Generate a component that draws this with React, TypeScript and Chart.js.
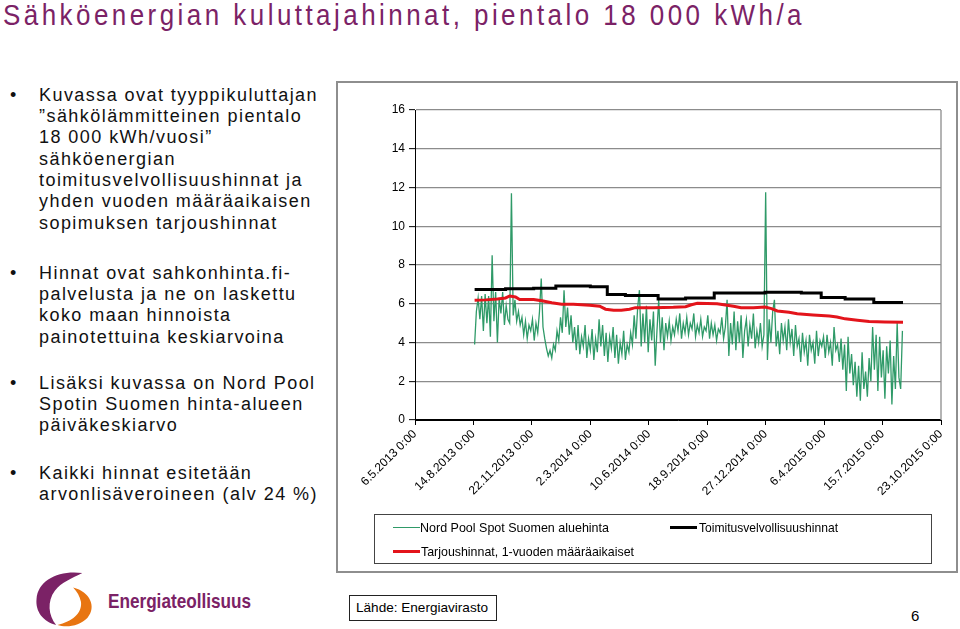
import React, { useEffect, useLayoutEffect, useRef } from "react";
import { Chart, registerables } from "chart.js";

Chart.register(...registerables);

// ---------- DATA ----------
const xTickLabels = [
  "6.5.2013 0:00",
  "14.8.2013 0:00",
  "22.11.2013 0:00",
  "2.3.2014 0:00",
  "10.6.2014 0:00",
  "18.9.2014 0:00",
  "27.12.2014 0:00",
  "6.4.2015 0:00",
  "15.7.2015 0:00",
  "23.10.2015 0:00",
];
const xTickStepDays = 100; // days between tick labels (day 0 = 6.5.2013)
const yMin = 0;
const yMax = 16;
const yStep = 2;

const seriesNames = [
  "Nord Pool Spot Suomen aluehinta",
  "Toimitusvelvollisuushinnat",
  "Tarjoushinnat, 1-vuoden määräaikaiset",
];
const seriesColors = ["#2f9a68", "#000000", "#e3141b"];

// Nord Pool Spot, one value every 3 days from day 102
const spotStartDay = 102;
const spotStepDays = 3;
const spotValues = [
  3.9, 5.6, 6.3, 5.2, 6.4, 4.6, 6.5, 5.0, 6.4, 4.3,
  8.5, 5.1, 6.6, 4.0, 6.3, 5.5, 6.6, 4.9, 5.9, 5.2,
  5.0, 11.7, 5.4, 6.2, 5.1, 5.6, 4.9, 5.3, 4.4, 5.1,
  4.2, 4.9, 4.6, 5.2, 4.1, 5.0, 4.5, 5.6, 7.3, 4.8,
  4.2, 3.7, 3.3, 3.6, 3.2, 3.9, 3.6, 4.6, 4.1, 5.3,
  4.5, 6.7, 4.8, 5.8, 4.4, 5.4, 4.0, 4.8, 3.6, 4.9,
  3.4, 4.3, 3.8, 4.9, 3.2, 4.2, 3.6, 4.7, 3.1, 4.2,
  3.5, 5.2, 3.8, 4.9, 3.3, 4.5, 3.0, 4.3, 3.7, 4.8,
  3.2, 4.4, 2.9, 4.0, 3.4, 4.6, 3.1, 3.9, 3.5, 4.5,
  3.9, 5.4, 4.2, 5.8, 6.7, 3.8, 5.5, 4.0, 5.9, 3.5,
  5.2, 4.1, 5.6, 2.8, 4.6, 6.2, 4.0, 5.3, 3.6, 5.0,
  4.3, 5.1, 4.1, 4.8, 4.4, 5.2, 4.6, 5.5, 4.2, 5.0,
  4.5, 5.3, 4.4, 5.0, 4.7, 5.5, 4.3, 4.9, 4.5, 5.2,
  4.3, 4.8, 4.6, 5.4, 4.2, 5.0, 4.4, 4.9, 4.1, 4.7,
  4.5, 5.3, 4.2, 4.8, 6.2, 3.3, 5.0, 3.9, 5.6, 3.6,
  5.1, 4.0, 5.4, 3.2, 4.6, 5.2, 3.8, 4.9, 4.2, 5.5,
  3.7, 4.6, 4.0, 5.0, 3.8, 4.4, 11.75, 3.1, 5.2, 4.0,
  5.6, 6.2, 3.8, 4.6, 3.4, 5.0, 4.1, 4.8, 3.6, 5.2,
  4.0, 4.7, 3.3, 4.9, 3.8, 4.2, 3.0, 4.5, 3.5, 4.1,
  2.8, 4.4, 3.6, 4.0, 2.9, 4.6, 3.3, 4.1, 3.8, 4.3,
  3.2, 4.4, 3.5, 4.0, 2.8, 4.8, 3.6, 3.9, 3.0, 4.2,
  2.6, 3.9, 1.5, 4.3, 2.4, 3.4, 1.8, 3.0, 1.2, 2.8,
  1.0, 3.5, 1.6, 2.5, 1.2, 3.2, 2.0, 4.8, 2.6, 4.4,
  1.5, 4.3, 2.2, 3.6, 1.1, 3.8, 2.4, 4.1, 0.8, 3.3,
  1.6, 5.0, 2.2, 1.6, 4.6,
];

// Toimitusvelvollisuushinnat (step line)
const supplyDays = [102, 155, 203, 241, 300, 329, 360, 416, 463, 512, 599, 661, 695, 736, 785, 835];
const supplyValues = [6.73, 6.77, 6.8, 6.92, 6.88, 6.48, 6.42, 6.25, 6.3, 6.55, 6.6, 6.55, 6.32, 6.24, 6.07, 6.07];

// Tarjoushinnat, 1-vuoden määräaikaiset
const offerDays = [
  102, 121, 141, 155, 162, 172, 179, 203, 217, 234, 251, 271, 299, 316, 326, 340, 353, 367, 377, 408, 442,
  463, 473, 483, 517, 534, 545, 558, 579, 599, 610, 620, 640, 654, 681, 709, 722, 736, 757, 777, 804, 835,
];
const offerValues = [
  6.18, 6.2, 6.25, 6.3, 6.4, 6.35, 6.22, 6.22, 6.15, 6.05, 5.97, 5.97, 5.92, 5.87, 5.72, 5.66, 5.66, 5.72, 5.8, 5.8, 5.82,
  5.85, 5.95, 6.02, 6.0, 5.92, 5.87, 5.8, 5.8, 5.83, 5.75, 5.63, 5.56, 5.48, 5.42, 5.37, 5.32, 5.22, 5.15, 5.08, 5.06, 5.04,
];

const titleText = "Sähköenergian kuluttajahinnat, pientalo 18 000 kWh/a";
const bulletParagraphs = [
  [
    "Kuvassa ovat tyyppikuluttajan",
    "”sähkölämmitteinen pientalo",
    "18 000 kWh/vuosi”",
    "sähköenergian",
    "toimitusvelvollisuushinnat ja",
    "yhden vuoden määräaikaisen",
    "sopimuksen tarjoushinnat",
  ],
  [
    "Hinnat ovat sahkonhinta.fi-",
    "palvelusta ja ne on laskettu",
    "koko maan hinnoista",
    "painotettuina keskiarvoina",
  ],
  ["Lisäksi kuvassa on Nord Pool", "Spotin Suomen hinta-alueen", "päiväkeskiarvo"],
  ["Kaikki hinnat esitetään", "arvonlisäveroineen (alv 24 %)"],
];
const sourceText = "Lähde: Energiavirasto";
const logoText = "Energiateollisuus";
const pageNumber = "6";

// ---------- LAYOUT ----------
const PURPLE = "#7b2266";
const bulletTops = [84.5, 262.5, 372.5, 462.5];
const LINE_H = 21.4;

const plotFrame = {
  id: "plotFrame",
  beforeDatasetsDraw(chart: any) {
    const { ctx, chartArea: a } = chart;
    ctx.save();
    ctx.strokeStyle = "#8c8c8c";
    ctx.lineWidth = 1.3;
    ctx.beginPath();
    ctx.moveTo(a.right, a.top);
    ctx.lineTo(a.right, a.bottom);
    ctx.stroke();
    ctx.restore();
  },
};

function fitScale(el: HTMLElement | null, target: number) {
  if (!el) return;
  el.style.transform = "";
  const w = el.getBoundingClientRect().width;
  if (w > 0) el.style.transform = `scaleX(${target / w})`;
}

export default function App() {
  const canvasRef = useRef<HTMLCanvasElement>(null);
  const rootRef = useRef<HTMLDivElement>(null);

  useLayoutEffect(() => {
    const root = rootRef.current;
    if (!root) return;
    const ref = root.querySelector<HTMLElement>("[data-ref='1']");
    if (ref) {
      ref.style.letterSpacing = "0px";
      const w = ref.getBoundingClientRect().width;
      const n = (ref.textContent || "").length;
      const ls = (279 - w) / n;
      root.querySelectorAll<HTMLElement>(".bl").forEach((e) => (e.style.letterSpacing = ls + "px"));
    }
    root.querySelectorAll<HTMLElement>("[data-fit]").forEach((e) => fitScale(e, Number(e.dataset.fit)));
  }, []);

  useEffect(() => {
    if (!canvasRef.current) return;
    const spot = spotValues.map((v, i) => ({ x: spotStartDay + i * spotStepDays, y: v }));
    const supply = supplyValues.map((v, i) => ({ x: supplyDays[i], y: v }));
    const offer = offerValues.map((v, i) => ({ x: offerDays[i], y: v }));
    const font = { family: "'Liberation Sans', Arial, sans-serif", size: 12 };
    const chart = new Chart(canvasRef.current, {
      type: "line",
      data: {
        datasets: [
          { label: seriesNames[0], data: spot, borderColor: seriesColors[0], borderWidth: 1.3, pointRadius: 0, order: 2 },
          { label: seriesNames[1], data: supply, borderColor: seriesColors[1], borderWidth: 3, pointRadius: 0, stepped: "before", order: 1 },
          { label: seriesNames[2], data: offer, borderColor: seriesColors[2], borderWidth: 3, pointRadius: 0, order: 0 },
        ],
      },
      options: {
        animation: false,
        responsive: false,
        maintainAspectRatio: false,
        layout: { padding: { top: 27, right: 13, left: 0, bottom: 0 } },
        plugins: { legend: { display: false }, tooltip: { enabled: false } },
        scales: {
          x: {
            type: "linear",
            min: 0,
            max: xTickStepDays * (xTickLabels.length - 1),
            ticks: {
              stepSize: xTickStepDays,
              autoSkip: false,
              minRotation: 45,
              maxRotation: 45,
              padding: 2,
              color: "#000",
              font,
              callback: (v: any) => xTickLabels[Math.round(Number(v) / xTickStepDays)] ?? "",
            },
            grid: { drawOnChartArea: false, tickLength: 5, tickColor: "#000", tickWidth: 1 },
            border: { color: "#000", width: 1 },
            afterFit: (s: any) => {
              s.height = 150;
              s.paddingLeft = 0;
              s.paddingRight = 0;
            },
          },
          y: {
            min: yMin,
            max: yMax,
            ticks: { stepSize: yStep, color: "#000", font, padding: 4 },
            grid: {
              color: (c: any) => (c.tick && c.tick.value === 0 ? "#000" : "#8c8c8c"),
              lineWidth: 1.3,
              tickLength: 6,
              tickColor: "#000",
              tickWidth: 1,
            },
            border: { color: "#000", width: 1 },
            afterFit: (s: any) => {
              s.width = 77;
              s.paddingTop = 0;
              s.paddingBottom = 0;
            },
          },
        },
      },
      plugins: [plotFrame],
    } as any);
    return () => chart.destroy();
  }, []);

  const abs = (l: number, t: number, extra: React.CSSProperties = {}): React.CSSProperties => ({
    position: "absolute",
    left: l,
    top: t,
    ...extra,
  });
  const fitSpan: React.CSSProperties = {
    display: "inline-block",
    whiteSpace: "nowrap",
    transformOrigin: "left center",
  };

  return (
    <div
      ref={rootRef}
      style={{
        position: "absolute",
        left: 0,
        top: 0,
        width: 960,
        height: 629,
        background: "#fff",
        overflow: "hidden",
        fontFamily: "'Liberation Sans', Arial, sans-serif",
        color: "#111",
      }}
    >
      {/* Title */}
      <div style={abs(3, -3, { fontSize: 30, lineHeight: "36px", color: PURPLE })}>
        <span data-fit="802" style={{ ...fitSpan, letterSpacing: "4px" }}>
          {titleText}
        </span>
      </div>

      {/* Bullets */}
      {bulletParagraphs.map((lines, p) => (
        <div key={p} style={abs(0, bulletTops[p], { fontSize: 18, lineHeight: LINE_H + "px" })}>
          {lines.map((ln, i) => (
            <div key={i} style={{ position: "relative", height: LINE_H, whiteSpace: "nowrap" }}>
              {i === 0 && <span style={{ position: "absolute", left: 10, top: 0 }}>•</span>}
              <span className="bl" data-ref={p === 0 && i === 0 ? "1" : undefined} style={{ position: "absolute", left: 39, top: 0, whiteSpace: "nowrap" }}>
                {ln}
              </span>
            </div>
          ))}
        </div>
      ))}

      {/* Chart frame */}
      <div
        style={abs(336, 81, {
          width: 622,
          height: 492,
          border: "2px solid #8e8e8e",
          boxSizing: "border-box",
        })}
      />
      <canvas ref={canvasRef} width={616} height={487} style={abs(338, 83, { width: 616, height: 487 })} />

      {/* Legend */}
      <div style={abs(374, 514, { width: 558, height: 50, border: "1px solid #444", boxSizing: "border-box" })} />
      {[
        { s: 0, lx: 393, ly: 527.5, tx: 420, fit: 189, w: 1.5 },
        { s: 1, lx: 670, ly: 527.5, tx: 699, fit: 139, w: 3 },
        { s: 2, lx: 393, ly: 551.5, tx: 421, fit: 213, w: 3 },
      ].map((it) => (
        <React.Fragment key={it.s}>
          <div style={abs(it.lx, it.ly - it.w / 2, { width: 27, height: it.w, background: seriesColors[it.s] })} />
          <div style={abs(it.tx, it.ly - 9, { fontSize: 13, lineHeight: "18px", color: "#000" })}>
            <span data-fit={String(it.fit)} style={fitSpan}>
              {seriesNames[it.s]}
            </span>
          </div>
        </React.Fragment>
      ))}

      {/* Logo */}
      <svg style={abs(30, 570)} width={68} height={58} viewBox="0 0 52 56" preserveAspectRatio="none">
        <path d="M40,3 C22,0 6,10 5,28 C4,40 10,50 20,53 C14,44 13,30 19,20 C24,12 32,8 40,3 Z" fill={PURPLE} />
        <path d="M33,17 C46,21 51,36 44,46 C38,54 28,56 21,53 C32,50 40,42 39,31 C38,25 36,21 33,17 Z" fill="#e87511" />
      </svg>
      <div style={abs(108, 588, { fontSize: 21, lineHeight: "26px", fontWeight: 700, color: PURPLE })}>
        <span data-fit="143" style={fitSpan}>
          {logoText}
        </span>
      </div>

      {/* Source box */}
      <div style={abs(349, 595, { width: 148, height: 26, border: "1px solid #222", boxSizing: "border-box" })} />
      <div style={abs(356, 599, { fontSize: 13, lineHeight: "18px", color: "#000" })}>
        <span data-fit="132" style={fitSpan}>
          {sourceText}
        </span>
      </div>

      {/* Page number */}
      <div style={abs(911, 607, { fontSize: 15, lineHeight: "18px", color: "#000" })}>{pageNumber}</div>
    </div>
  );
}
